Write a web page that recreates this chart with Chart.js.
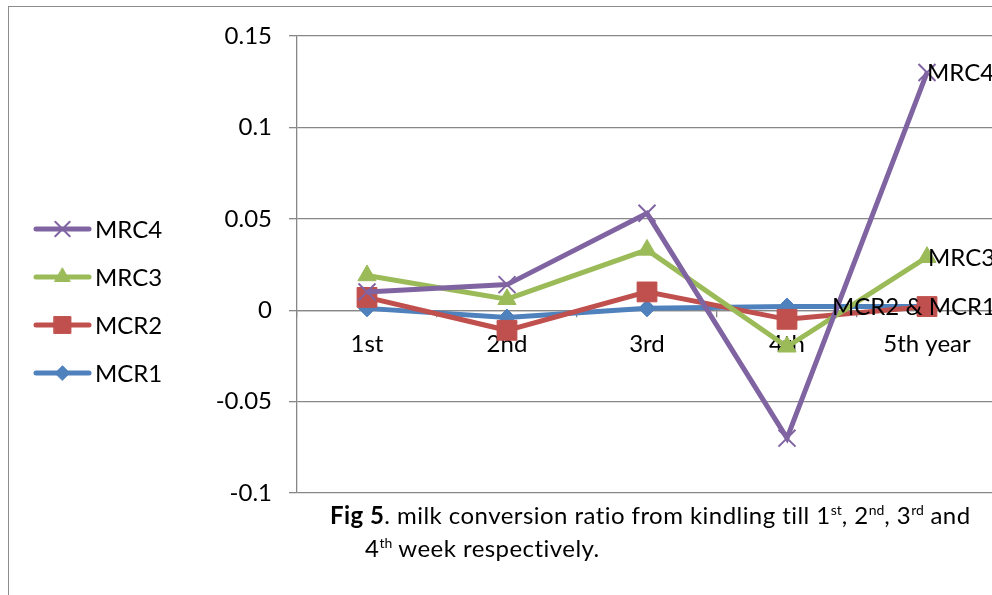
<!DOCTYPE html>
<html>
<head>
<meta charset="utf-8">
<script src="https://cdn.jsdelivr.net/npm/chart.js@4.4.1/dist/chart.umd.min.js"></script>
<style>
  html, body { margin: 0; padding: 0; width: 992px; height: 595px; overflow: hidden; background: #fff; }
  #wrap { position: absolute; left: 0; top: 0; width: 1012px; height: 595px; }
  #frame { position: absolute; left: 8px; top: 6px; width: 1200px; height: 800px;
           border-left: 1.5px solid #8c8c8c; border-top: 1.5px solid #8c8c8c; pointer-events: none; }
  #caption { position: absolute; left: 330px; top: 498px; font-family: Lato, "Open Sans", sans-serif;
             font-size: 24px; letter-spacing: 0.45px; line-height: 33px; color: #000; white-space: nowrap; }
  #caption sup { font-size: 14px; vertical-align: 9px; line-height: 0; letter-spacing: 0; }
  #caption .l2 { padding-left: 35px; }
</style>
</head>
<body>
<div id="frame"></div>
<div id="wrap"><canvas id="c" width="1012" height="595"></canvas></div>
<div id="caption"><b>Fig 5</b>. milk conversion ratio from kindling till 1<sup>st</sup>, 2<sup>nd</sup>, 3<sup>rd</sup> and<br><span class="l2">4<sup>th</sup> week respectively.</span></div>
<script>
// Periods along the horizontal axis
const categories = ['1st', '2nd', '3rd', '4th', '5th year'];

// Milk conversion ratio per group
const MRC4 = [0.010, 0.014, 0.053, -0.070, 0.130];
const MRC3 = [0.019, 0.006, 0.033, -0.020, 0.029];
const MCR2 = [0.007, -0.011, 0.010, -0.005, 0.002];
const MCR1 = [0.001, -0.004, 0.001, 0.002, 0.002];

// Vertical axis ticks
const yTicks = [-0.1, -0.05, 0, 0.05, 0.1, 0.15];

// Text written at the end of the lines
const endLabelText = { MRC4: 'MRC4', MRC3: 'MRC3', MCR2: 'MCR2 & MCR1' };

const FONT = 'Lato, "Open Sans", sans-serif';
const GRID = '#878787';

function series(label, data, color, style, radius) {
  return {
    label, data,
    borderColor: color, backgroundColor: color,
    borderWidth: 5,
    pointStyle: style, pointRadius: radius, pointHoverRadius: radius,
    pointBackgroundColor: color, pointBorderColor: color,
    pointBorderWidth: style === 'crossRot' ? 2 : 1,
    tension: 0, fill: false
  };
}

const datasets = [
  series('MRC4', MRC4, '#8064A2', 'crossRot', 12),
  series('MRC3', MRC3, '#9BBB59', 'triangle', 10.5),
  series('MCR2', MCR2, '#C0504D', 'rect', 14),
  series('MCR1', MCR1, '#4F81BD', 'rectRot', 8.5)
];

// Legend on the left: line sample with its marker, then the name
const sideLegend = {
  id: 'sideLegend',
  afterDraw(chart) {
    const ctx = chart.ctx;
    ctx.save();
    chart.data.datasets.forEach((ds, i) => {
      const y = 229 + i * 48;
      ctx.strokeStyle = ds.borderColor;
      ctx.lineWidth = ds.borderWidth;
      ctx.lineCap = 'round';
      ctx.beginPath();
      ctx.moveTo(36, y);
      ctx.lineTo(89, y);
      ctx.stroke();
      ctx.fillStyle = ds.pointBackgroundColor;
      ctx.strokeStyle = ds.pointBorderColor;
      ctx.lineWidth = ds.pointBorderWidth;
      Chart.helpers.drawPoint(ctx, { pointStyle: ds.pointStyle, radius: ds.pointRadius * 0.85, rotation: 0, borderWidth: ds.pointBorderWidth }, 62.5, y);
      ctx.fillStyle = '#000';
      ctx.font = '24px ' + FONT;
      ctx.textAlign = 'left';
      ctx.textBaseline = 'middle';
      ctx.fillText(ds.label, 95, y + 1);
    });
    ctx.restore();
  }
};

// Names written next to the last point of a line
const endLabels = {
  id: 'endLabels',
  afterDatasetsDraw(chart) {
    const ctx = chart.ctx;
    const shift = { MRC4: 0, MRC3: 1, MCR2: -95 };
    ctx.save();
    ctx.fillStyle = '#000';
    ctx.font = '24px ' + FONT;
    ctx.textAlign = 'left';
    ctx.textBaseline = 'middle';
    chart.data.datasets.forEach((ds, i) => {
      const text = endLabelText[ds.label];
      if (!text) return;
      const pts = chart.getDatasetMeta(i).data;
      const p = pts[pts.length - 1];
      ctx.fillText(text, p.x + shift[ds.label], p.y + 1);
    });
    ctx.restore();
  }
};

new Chart(document.getElementById('c'), {
  type: 'line',
  data: { labels: categories, datasets },
  options: {
    responsive: false,
    animation: false,
    events: [],
    layout: { padding: { top: 36, bottom: 102, right: 10, left: 0 } },
    plugins: { legend: { display: false }, tooltip: { enabled: false } },
    scales: {
      x: {
        type: 'category',
        offset: true,
        position: { y: 0 },
        grid: { display: true, drawOnChartArea: false, offset: true, color: GRID, lineWidth: 1.3, tickLength: 6 },
        border: { display: true, color: GRID, width: 1.3 },
        ticks: { color: '#000', font: { family: FONT, size: 24 }, padding: 14, maxRotation: 0, autoSkip: false }
      },
      y: {
        min: yTicks[0],
        max: yTicks[yTicks.length - 1],
        afterFit(scale) { scale.width = 297; },
        afterBuildTicks(scale) { scale.ticks = yTicks.map(v => ({ value: v })); },
        grid: { color: GRID, lineWidth: 1.3, tickLength: 8 },
        border: { display: true, color: GRID, width: 1.3 },
        ticks: {
          color: '#000', font: { family: FONT, size: 24 }, padding: 17,
          callback: v => String(Math.round(v * 100) / 100)
        }
      }
    }
  },
  plugins: [sideLegend, endLabels]
});
</script>
</body>
</html>
